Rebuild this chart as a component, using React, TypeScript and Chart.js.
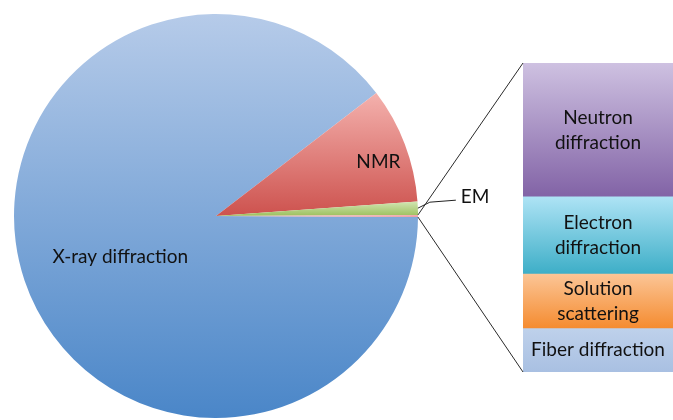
import { useEffect, useRef } from 'react';
import { Chart, registerables } from 'chart.js';

Chart.register(...registerables);

// Structures by experimental method
const PIE_LABELS = ['X-ray diffraction', 'NMR', 'EM'];
const PIE_VALUES = [86000, 8900, 1020];

// Breakdown of the remaining methods (top to bottom in the bar)
const BAR_LABELS = ['Neutron diffraction', 'Electron diffraction', 'Solution scattering', 'Fiber diffraction'];
const BAR_TEXT_LINES = [['Neutron', 'diffraction'], ['Electron', 'diffraction'], ['Solution', 'scattering'], ['Fiber diffraction']];
const BAR_VALUES = [71, 41, 29, 23];

const OTHER_TOTAL = BAR_VALUES.reduce((a, b) => a + b, 0);
const ALL_PIE_VALUES = [...PIE_VALUES, OTHER_TOTAL];
const PIE_TOTAL = ALL_PIE_VALUES.reduce((a, b) => a + b, 0);

const W = 673;
const H = 420;
const FONT = 'Lato, "Open Sans", sans-serif';
const FONT_SIZE = 19;

// [top, bottom] gradient stops
const PIE_COLORS: [string, string][] = [
  ['#b6cbe9', '#4a86c8'],
  ['#f4b1ad', '#cd524e'],
  ['#d2e6b3', '#9dc05e'],
  ['#f3b0b4', '#e99ba2'],
];
const BAR_COLORS: [string, string][] = [
  ['#cec1e1', '#8263a6'],
  ['#aee3f5', '#3daec7'],
  ['#fbc596', '#f58b2f'],
  ['#bed1eb', '#a9c0e2'],
];

function verticalGradient(chart: Chart, y0: number, y1: number, colors: [string, string]) {
  if (!isFinite(y0) || !isFinite(y1) || Math.abs(y1 - y0) < 0.5) return colors[1];
  const g = chart.ctx.createLinearGradient(0, y0, 0, y1);
  g.addColorStop(0, colors[0]);
  g.addColorStop(1, colors[1]);
  return g;
}

function sliceYRange(cy: number, r: number, a0: number, a1: number) {
  let minY = cy;
  let maxY = cy;
  for (const a of [a0, a1]) {
    const y = cy + r * Math.sin(a);
    minY = Math.min(minY, y);
    maxY = Math.max(maxY, y);
  }
  for (let k = -4; k <= 4; k++) {
    const down = Math.PI / 2 + k * 2 * Math.PI;
    const up = -Math.PI / 2 + k * 2 * Math.PI;
    if (down >= a0 && down <= a1) maxY = cy + r;
    if (up >= a0 && up <= a1) minY = cy - r;
  }
  return [minY, maxY];
}

const ROTATION_DEG = 90 + ((OTHER_TOTAL / PIE_TOTAL) * 360) / 2;

function pieFill(ctx: any) {
  const chart = ctx.chart as Chart;
  const i = ctx.dataIndex as number;
  const colors = PIE_COLORS[i] || PIE_COLORS[0];
  const a = chart.chartArea;
  if (!a) return colors[1];
  const cy = (a.top + a.bottom) / 2;
  const r = Math.min(a.right - a.left, a.bottom - a.top) / 2;
  let a0 = ((ROTATION_DEG - 90) * Math.PI) / 180;
  for (let k = 0; k < i; k++) a0 += (ALL_PIE_VALUES[k] / PIE_TOTAL) * 2 * Math.PI;
  const a1 = a0 + (ALL_PIE_VALUES[i] / PIE_TOTAL) * 2 * Math.PI;
  const [y0, y1] = sliceYRange(cy, r, a0, a1);
  return verticalGradient(chart, y0, y1, colors);
}

// bar datasets are stacked bottom-up
const BAR_ORDER = BAR_VALUES.map((_, i) => BAR_VALUES.length - 1 - i);

function barFill(ctx: any) {
  const chart = ctx.chart as Chart;
  const seg = BAR_ORDER[ctx.datasetIndex as number] ?? 0;
  const colors = BAR_COLORS[seg];
  const y: any = chart.scales?.y;
  if (!y) return colors[1];
  let below = 0;
  for (let k = seg + 1; k < BAR_VALUES.length; k++) below += BAR_VALUES[k];
  const bottom = y.getPixelForValue(below);
  const top = y.getPixelForValue(below + BAR_VALUES[seg]);
  return verticalGradient(chart, top, bottom, colors);
}

const barLabelPlugin = {
  id: 'barLabels',
  afterDatasetsDraw(chart: Chart) {
    const c = chart.ctx;
    c.save();
    c.fillStyle = '#111';
    c.font = `${FONT_SIZE}px ${FONT}`;
    c.textAlign = 'center';
    c.textBaseline = 'middle';
    chart.data.datasets.forEach((_, di) => {
      const el: any = chart.getDatasetMeta(di).data[0];
      const seg = BAR_ORDER[di];
      const lines = BAR_TEXT_LINES[seg];
      const cx = el.x;
      const cy = (el.y + el.base) / 2;
      const lh = 25;
      lines.forEach((t, li) => {
        c.fillText(t, cx, cy + (li - (lines.length - 1) / 2) * lh);
      });
    });
    c.restore();
  },
};

export default function App() {
  const barRef = useRef<HTMLCanvasElement>(null);
  const pieRef = useRef<HTMLCanvasElement>(null);

  useEffect(() => {
    const barChart = new Chart(barRef.current!, {
      type: 'bar',
      data: {
        labels: ['Other'],
        datasets: BAR_ORDER.map((seg) => ({
          label: BAR_LABELS[seg],
          data: [BAR_VALUES[seg]],
          backgroundColor: barFill,
          borderWidth: 0,
          barPercentage: 1,
          categoryPercentage: 1,
        })),
      },
      options: {
        responsive: false,
        animation: false,
        layout: { padding: { left: 523, top: 63, right: 0, bottom: 48 } },
        scales: {
          x: { stacked: true, display: false },
          y: { stacked: true, display: false, min: 0, max: OTHER_TOTAL },
        },
        plugins: { legend: { display: false }, tooltip: { enabled: false } },
      },
      plugins: [barLabelPlugin],
    });

    const pieLabelPlugin = {
      id: 'pieLabels',
      afterDatasetsDraw(chart: Chart) {
        const c = chart.ctx;
        const arcs: any[] = chart.getDatasetMeta(0).data as any[];
        c.save();
        c.fillStyle = '#111';
        c.font = `${FONT_SIZE}px ${FONT}`;
        c.textBaseline = 'middle';

        // inside labels: [slice, radial fraction, vertical nudge]
        const inside: [number, number, number][] = [[0, 0.5, 9], [1, 0.86, 8]];
        inside.forEach(([i, f, dy]) => {
          const a = arcs[i];
          const mid = (a.startAngle + a.endAngle) / 2;
          c.textAlign = 'center';
          c.fillText(PIE_LABELS[i], a.x + Math.cos(mid) * a.outerRadius * f, a.y + Math.sin(mid) * a.outerRadius * f + dy);
        });

        // EM: outside with leader line
        const em = arcs[2];
        const mid = (em.startAngle + em.endAngle) / 2;
        const px = em.x + Math.cos(mid) * em.outerRadius;
        const py = em.y + Math.sin(mid) * em.outerRadius;
        c.strokeStyle = '#222';
        c.lineWidth = 1;
        c.beginPath();
        c.moveTo(px, py);
        c.lineTo(px + 12, py - 6);
        c.lineTo(px + 38, py - 8);
        c.stroke();
        c.textAlign = 'left';
        c.fillText(PIE_LABELS[2], px + 43, py - 11);

        // connectors from the "other" slice to the bar
        const other = arcs[3];
        const area = barChart.chartArea;
        const ux = other.x + Math.cos(other.startAngle) * other.outerRadius;
        const uy = other.y + Math.sin(other.startAngle) * other.outerRadius;
        const lx = other.x + Math.cos(other.endAngle) * other.outerRadius;
        const ly = other.y + Math.sin(other.endAngle) * other.outerRadius;
        c.strokeStyle = '#2a2a2a';
        c.beginPath();
        c.moveTo(ux, uy);
        c.lineTo(area.left, area.top);
        c.moveTo(lx, ly);
        c.lineTo(area.left, area.bottom);
        c.stroke();
        c.restore();
      },
    };

    const pieChart = new Chart(pieRef.current!, {
      type: 'pie',
      data: {
        labels: [...PIE_LABELS, 'Other'],
        datasets: [
          {
            data: ALL_PIE_VALUES,
            backgroundColor: pieFill,
            borderWidth: 0,
          },
        ],
      },
      options: {
        responsive: false,
        animation: false,
        rotation: ROTATION_DEG,
        layout: { padding: { left: 14, top: 14, right: 255, bottom: 2 } },
        plugins: { legend: { display: false }, tooltip: { enabled: false } },
      },
      plugins: [pieLabelPlugin],
    });

    return () => {
      pieChart.destroy();
      barChart.destroy();
    };
  }, []);

  const canvasStyle: React.CSSProperties = { position: 'absolute', left: 0, top: 0, width: W, height: H };
  return (
    <div style={{ position: 'absolute', left: 0, top: 0, width: W, height: H, background: '#fff', overflow: 'hidden' }}>
      <canvas ref={barRef} width={W} height={H} style={canvasStyle} />
      <canvas ref={pieRef} width={W} height={H} style={canvasStyle} />
    </div>
  );
}
